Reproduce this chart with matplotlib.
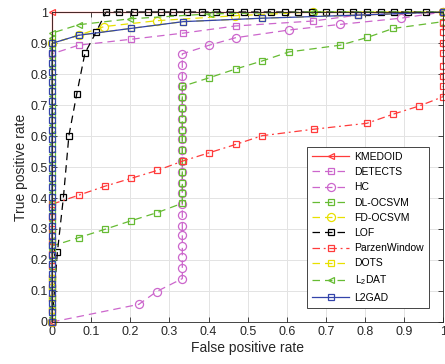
import numpy as np
import matplotlib.pyplot as plt

plt.rcParams['font.family'] = ['Liberation Sans', 'DejaVu Sans']

# ROC points (false positive rate, true positive rate)
col0 = [0, 0.031, 0.062, 0.093, 0.124, 0.155, 0.186, 0.217, 0.248, 0.279,
        0.31, 0.341, 0.372, 0.403, 0.434, 0.465, 0.496, 0.527, 0.558, 0.589,
        0.62, 0.651, 0.682, 0.713, 0.744, 0.775, 0.806, 0.837, 0.868, 0.899]
col0_shift = [0.016, 0.047, 0.078, 0.109, 0.14, 0.171, 0.202, 0.233, 0.264,
              0.295, 0.326, 0.357, 0.388, 0.419, 0.45, 0.481, 0.512, 0.543,
              0.574, 0.605, 0.636, 0.667, 0.698, 0.729, 0.76, 0.791, 0.822,
              0.853, 0.884, 0.915, 0.932]

kmedoid_x = [0, 0, 1]
kmedoid_y = [0, 1, 1]

detects_x = [0, 0, 0.068, 0.201, 0.336, 0.469, 0.668, 0.781, 1]
detects_y = [0, 0.865, 0.893, 0.912, 0.932, 0.955, 0.971, 0.99, 1]

hc_col = [0.14, 0.175, 0.21, 0.245, 0.28, 0.31, 0.345, 0.38, 0.415, 0.45,
          0.485, 0.52, 0.555, 0.59, 0.62, 0.655, 0.69, 0.725, 0.76, 0.795,
          0.83, 0.865]
hc_x = [0, 0.222, 0.267] + [0.333] * len(hc_col) + [0.402, 0.469, 0.606, 0.736, 0.891, 1]
hc_y = [0, 0.057, 0.098] + hc_col + [0.893, 0.917, 0.942, 0.96, 0.98, 1]

dl_col = [0.415, 0.45, 0.485, 0.52, 0.555, 0.59, 0.62, 0.655, 0.69, 0.725, 0.76]
dl_x = [0, 0, 0.068, 0.135, 0.203, 0.269, 0.333] + [0.333] * len(dl_col) + \
       [0.402, 0.469, 0.537, 0.605, 0.737, 0.806, 0.872, 1]
dl_y = [0, 0.245, 0.272, 0.299, 0.327, 0.353, 0.383] + dl_col + \
       [0.788, 0.816, 0.842, 0.871, 0.893, 0.918, 0.947, 0.969]

fd_x = [0, 0, 0.068, 0.133, 0.268, 0.468, 0.668, 1]
fd_y = [0, 0.899, 0.925, 0.953, 0.972, 0.988, 1, 1]

lof_top = [0.138, 0.172, 0.21, 0.245, 0.278, 0.31, 0.346, 0.383, 0.42, 0.455,
           0.49, 0.525, 0.56, 0.595, 0.63, 0.665, 0.7, 0.735, 0.77, 0.805,
           0.84, 0.875, 0.91, 0.955, 1.0]
lof_x = [0, 0.0136, 0.029, 0.043, 0.063, 0.084, 0.1125] + lof_top
lof_y = [0, 0.225, 0.402, 0.601, 0.735, 0.867, 0.935] + [1.0] * len(lof_top)

parzen_x = [0] * 10 + [0, 0.068, 0.135, 0.201, 0.269, 0.336, 0.402, 0.47, 0.537,
                       0.67, 0.805, 0.871, 0.939] + [1] * 9
parzen_y = [0, 0.038, 0.077, 0.114, 0.141, 0.18, 0.22, 0.26, 0.30, 0.34] + \
           [0.38, 0.409, 0.438, 0.463, 0.489, 0.52, 0.546, 0.573, 0.601,
            0.622, 0.641, 0.67, 0.697] + \
           [0.727, 0.762, 0.794, 0.827, 0.867, 0.899, 0.934, 0.966, 1.0]

dots_x = [0, 0, 0, 0, 0, 0, 0.068, 0.201, 0.336, 0.537, 0.781, 1]
dots_y = [0, 0.038, 0.077, 0.114, 0.141, 0.899, 0.925, 0.947, 0.969, 0.98, 0.99, 1]

l2dat_x = [0] * len(col0_shift) + [0.068, 0.199, 0.404, 0.668, 1]
l2dat_y = col0_shift + [0.959, 0.978, 0.994, 1.0, 1.0]

l2gad_x = [0] * len(col0) + [0.068, 0.201, 0.336, 0.537, 0.781, 1]
l2gad_y = col0 + [0.925, 0.947, 0.969, 0.98, 0.99, 1]

red = '#ff3b3b'
pink = '#cc66cc'
green = '#66bb33'
yellow = '#e8e000'
blue = '#3344aa'

dash = (0, (6, 4))
dashdot = (0, (6, 3, 1.5, 3))

series = [
    ('KMEDOID', kmedoid_x, kmedoid_y, red, '-', '<'),
    ('DETECTS', detects_x, detects_y, pink, dash, 's'),
    ('HC', hc_x, hc_y, pink, dash, 'o'),
    ('DL-OCSVM', dl_x, dl_y, green, dash, 's'),
    ('FD-OCSVM', fd_x, fd_y, yellow, dash, 'o'),
    ('LOF', lof_x, lof_y, 'black', dash, 's'),
    ('ParzenWindow', parzen_x, parzen_y, red, dashdot, 's'),
    ('DOTS', dots_x, dots_y, yellow, dash, 's'),
    (r'L$_{\mathregular{2}}$DAT', l2dat_x, l2dat_y, green, dash, '<'),
    ('L2GAD', l2gad_x, l2gad_y, blue, '-', 's'),
]

fig = plt.figure(figsize=(4.45, 3.64), dpi=100)
ax = fig.add_axes([0.117, 0.1154, 0.879, 0.8516])

for name, xs, ys, c, ls, mk in series:
    ms = 5.8 if mk == 'o' else 5.0
    ax.plot(xs, ys, color=c, linestyle=ls, linewidth=0.9, marker=mk,
            markersize=ms, markerfacecolor='none', markeredgewidth=0.9,
            label=name, clip_on=False)

ax.set_xlim(0, 1)
ax.set_ylim(0, 1)
ticks = np.arange(0, 1.01, 0.1)
labels = ['0', '0.1', '0.2', '0.3', '0.4', '0.5', '0.6', '0.7', '0.8', '0.9', '1']
ax.set_xticks(ticks)
ax.set_xticklabels(labels)
ax.set_yticks(ticks)
ax.set_yticklabels(labels)
ax.tick_params(direction='in', top=True, right=True, length=3.5, width=0.6,
               labelsize=9, colors='#262626', pad=3)
ax.grid(True, color='#e3e3e3', linewidth=0.7)
ax.set_axisbelow(True)
for s in ax.spines.values():
    s.set_color('#262626')
    s.set_linewidth(0.6)

ax.set_xlabel('False positive rate', fontsize=10, color='#262626', labelpad=2)
ax.set_ylabel('True positive rate', fontsize=10, color='#262626', labelpad=2)

leg = ax.legend(loc='lower right', bbox_to_anchor=(0.978, 0.029), fontsize=7.5,
                numpoints=1, handlelength=3.6, labelspacing=0.5,
                borderpad=0.5, handletextpad=0.5, fancybox=False,
                edgecolor='#262626', framealpha=1)
leg.get_frame().set_linewidth(0.6)

fig.savefig('out.png', dpi=100)
